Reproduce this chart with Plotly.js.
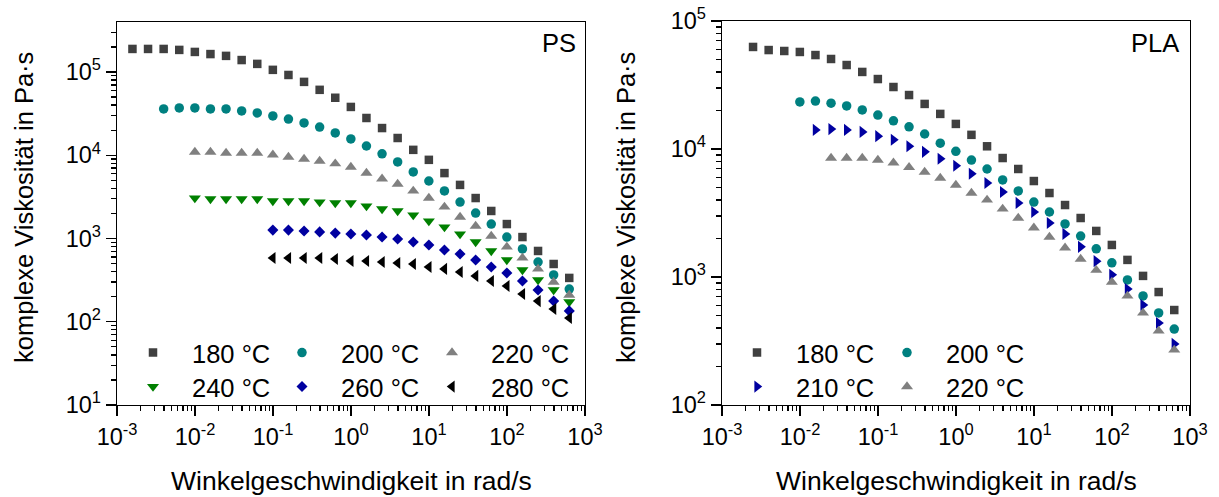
<!DOCTYPE html>
<html>
<head>
<meta charset="utf-8">
<script src="https://cdn.plot.ly/plotly-3.0.1.min.js"></script>
<style>html,body{margin:0;padding:0;background:#fff;}#chart{width:1219px;height:497px;}</style>
</head>
<body>
<div id="chart"></div>
<script>
// angular frequencies (rad/s), ascending
const omega = [0.001578, 0.002501, 0.003964, 0.006283, 0.009957, 0.01578, 0.02501, 0.03964, 0.06283, 0.09957,
  0.1578, 0.2501, 0.3964, 0.6283, 0.9957, 1.578, 2.501, 3.964, 6.283, 9.957,
  15.78, 25.01, 39.64, 62.83, 99.57, 157.8, 250.1, 396.4, 628.3];

// PS complex viscosity (Pa·s)
const ps180 = [1.89e5,1.89e5,1.89e5,1.84e5,1.74e5,1.64e5,1.56e5,1.39e5,1.25e5,1.06e5,9.2e4,7.6e4,6.1e4,4.9e4,3.8e4,2.8e4,2.12e4,1.61e4,1.16e4,8.8e3,6.1e3,4.4e3,3.06e3,2.14e3,1.49e3,1.04e3,708,494,336];
const ps200 = [3.6e4,3.7e4,3.7e4,3.6e4,3.6e4,3.4e4,3.22e4,2.96e4,2.72e4,2.44e4,2.18e4,1.85e4,1.57e4,1.29e4,1.04e4,8.3e3,6.3e3,4.9e3,3.72e3,2.74e3,2.02e3,1.49e3,1.04e3,748,522,365,247];
const ps220 = [1.09e4,1.09e4,1.06e4,1.06e4,1.06e4,1.01e4,9.5e3,9.0e3,8.5e3,7.9e3,7.2e3,6.1e3,5.2e3,4.5e3,3.72e3,3.06e3,2.39e3,1.81e3,1.41e3,1.07e3,791,583,431,300,209];
const ps240 = [3.06e3,2.98e3,2.98e3,2.98e3,2.98e3,2.82e3,2.82e3,2.82e3,2.74e3,2.67e3,2.67e3,2.45e3,2.26e3,2.14e3,1.91e3,1.62e3,1.37e3,1.13e3,908,708,552,419,318,241,173];
const ps260 = [1.26e3,1.26e3,1.23e3,1.20e3,1.16e3,1.13e3,1.10e3,1.04e3,986,908,836,728,652,552,455,385,309,241,177,135];
const ps280 = [583,583,583,583,567,537,537,522,508,494,455,431,396,355,309,269,215,177,142,111];

// PLA complex viscosity (Pa·s)
const pla180 = [6.27e4,5.93e4,5.83e4,5.73e4,5.42e4,5.05e4,4.53e4,4.00e4,3.52e4,3.05e4,2.64e4,2.25e4,1.88e4,1.57e4,1.29e4,1.05e4,8.5e3,6.98e3,5.62e3,4.53e3,3.65e3,2.89e3,2.29e3,1.78e3,1.36e3,1.02e3,763,552];
const pla200 = [2.33e4,2.37e4,2.28e4,2.17e4,2.02e4,1.84e4,1.66e4,1.49e4,1.31e4,1.11e4,9.6e3,8.2e3,6.98e3,5.73e3,4.70e3,3.85e3,3.22e3,2.60e3,2.09e3,1.66e3,1.29e3,948,711,524,392];
const pla210 = [1.41e4,1.43e4,1.41e4,1.36e4,1.26e4,1.18e4,1.05e4,9.5e3,8.4e3,7.4e3,6.4e3,5.42e3,4.61e3,3.79e3,3.22e3,2.64e3,2.17e3,1.72e3,1.33e3,1.04e3,806,604,437,300];
const pla220 = [8.5e3,8.5e3,8.5e3,8.2e3,7.8e3,7.2e3,6.6e3,5.93e3,5.23e3,4.53e3,4.00e3,3.40e3,2.89e3,2.42e3,2.05e3,1.69e3,1.38e3,1.13e3,914,711,524,379,269];

const psNames = ['180 °C','200 °C','220 °C','240 °C','260 °C','280 °C'];
const plaNames = ['180 °C','200 °C','210 °C','220 °C'];
const xTickVals = [1e-3,1e-2,1e-1,1,10,100,1000];
const xTickText = ['10<sup>-3</sup>','10<sup>-2</sup>','10<sup>-1</sup>','10<sup>0</sup>','10<sup>1</sup>','10<sup>2</sup>','10<sup>3</sup>'];
const yTickValsPS = [10,100,1000,1e4,1e5];
const yTickTextPS = ['10<sup>1</sup>','10<sup>2</sup>','10<sup>3</sup>','10<sup>4</sup>','10<sup>5</sup>'];
const yTickValsPLA = [100,1000,1e4,1e5];
const yTickTextPLA = ['10<sup>2</sup>','10<sup>3</sup>','10<sup>4</sup>','10<sup>5</sup>'];

function minors(lo, hi) {
  const out = [];
  for (let e = lo; e < hi; e++) for (let m = 2; m <= 9; m++) out.push(m * Math.pow(10, e));
  return out;
}

const FONT = '"Liberation Sans", Arial, sans-serif';
const W = 1219, H = 497;

function tr(x, y, name, sym, color, size, xa, ya, leg) {
  return {x: x, y: y, name: name, type: 'scatter', mode: 'markers', xaxis: xa, yaxis: ya, legend: leg,
    marker: {symbol: sym, color: color, size: size, line: {width: 0}}};
}
const C = {sq: '#404040', teal: '#008080', gray: '#808080', green: '#008000', blue: '#0000a0', black: '#000000'};

const data = [
  tr(omega.slice(-ps180.length), ps180, psNames[0], 'square', C.sq, 8.5, 'x', 'y', 'legend'),
  tr(omega.slice(-ps200.length), ps200, psNames[1], 'circle', C.teal, 9.5, 'x', 'y', 'legend2'),
  tr(omega.slice(-ps220.length), ps220, psNames[2], 'triangle-up', C.gray, 10.5, 'x', 'y', 'legend3'),
  tr(omega.slice(-ps240.length), ps240, psNames[3], 'triangle-down', C.green, 10.5, 'x', 'y', 'legend4'),
  tr(omega.slice(-ps260.length), ps260, psNames[4], 'diamond', C.blue, 8.5, 'x', 'y', 'legend5'),
  tr(omega.slice(-ps280.length), ps280, psNames[5], 'triangle-left', C.black, 10.5, 'x', 'y', 'legend6'),
  tr(omega.slice(-pla180.length), pla180, plaNames[0], 'square', C.sq, 8.5, 'x2', 'y2', 'legend7'),
  tr(omega.slice(-pla200.length), pla200, plaNames[1], 'circle', C.teal, 9.5, 'x2', 'y2', 'legend8'),
  tr(omega.slice(-pla210.length), pla210, plaNames[2], 'triangle-right', C.blue, 10.5, 'x2', 'y2', 'legend9'),
  tr(omega.slice(-pla220.length), pla220, plaNames[3], 'triangle-up', C.gray, 10.5, 'x2', 'y2', 'legend10')
];

const axBase = {
  type: 'log', showgrid: false, zeroline: false, showline: true, linecolor: '#000', linewidth: 1.3,
  mirror: true, ticks: 'outside', ticklen: 10, tickwidth: 1.3, tickcolor: '#000',
  tickfont: {family: FONT, size: 23.5, color: '#000'}, tickmode: 'array'
};
function ax(extra) { return Object.assign({}, axBase, extra); }

const legBase = {
  orientation: 'h', bgcolor: 'rgba(0,0,0,0)', borderwidth: 0, font: {family: FONT, size: 25.5, color: '#000'},
  itemwidth: 68, xanchor: 'left', yanchor: 'middle',
  itemclick: false, itemdoubleclick: false, tracegroupgap: 0
};
// position by marker centre (px): item start = marker - 39
function leg(mx, y) { return Object.assign({}, legBase, {x: (mx - 39) / W, y: (H - y) / H}); }

const annFont = {family: FONT, size: 25.5, color: '#000'};
const layout = {
  width: W, height: H, margin: {l: 0, r: 0, t: 0, b: 0}, paper_bgcolor: '#fff', plot_bgcolor: '#fff',
  showlegend: true,
  xaxis: ax({domain: [117 / W, 585 / W], range: [-3, 3], tickvals: xTickVals, ticktext: xTickText, anchor: 'y',
    minor: {tickmode: 'array', tickvals: minors(-3, 3), ticks: 'outside', ticklen: 5, tickwidth: 1.3, tickcolor: '#000'}}),
  yaxis: ax({domain: [(H - 405) / H, (H - 22) / H], range: [1, 5.6], tickvals: yTickValsPS, ticktext: yTickTextPS, anchor: 'x',
    minor: {tickmode: 'array', tickvals: minors(1, 6).filter(v => v < 3.99e5), ticks: 'outside', ticklen: 5, tickwidth: 1.3, tickcolor: '#000'}}),
  xaxis2: ax({domain: [722 / W, 1190 / W], range: [-3, 3], tickvals: xTickVals, ticktext: xTickText, anchor: 'y2',
    minor: {tickmode: 'array', tickvals: minors(-3, 3), ticks: 'outside', ticklen: 5, tickwidth: 1.3, tickcolor: '#000'}}),
  yaxis2: ax({domain: [(H - 405) / H, (H - 21) / H], range: [2, 5], tickvals: yTickValsPLA, ticktext: yTickTextPLA, anchor: 'x2',
    minor: {tickmode: 'array', tickvals: minors(2, 5), ticks: 'outside', ticklen: 5, tickwidth: 1.3, tickcolor: '#000'}}),
  legend: leg(153, 353),
  legend2: leg(302, 353),
  legend3: leg(452, 353),
  legend4: leg(153, 387),
  legend5: leg(302, 387),
  legend6: leg(452, 387),
  legend7: leg(757, 353),
  legend8: leg(907, 353),
  legend9: leg(757, 387),
  legend10: leg(907, 387),
  annotations: [
    {text: 'PS', xref: 'paper', yref: 'paper', x: 578 / W, y: (H - 43) / H, xanchor: 'right', yanchor: 'middle', showarrow: false, font: annFont},
    {text: 'PLA', xref: 'paper', yref: 'paper', x: 1181 / W, y: (H - 43) / H, xanchor: 'right', yanchor: 'middle', showarrow: false, font: annFont},
    {text: 'Winkelgeschwindigkeit in rad/s', xref: 'paper', yref: 'paper', x: 351 / W, y: (H - 481) / H, xanchor: 'center', yanchor: 'middle', showarrow: false, font: {family: FONT, size: 26.5, color: '#000'}},
    {text: 'Winkelgeschwindigkeit in rad/s', xref: 'paper', yref: 'paper', x: 956 / W, y: (H - 481) / H, xanchor: 'center', yanchor: 'middle', showarrow: false, font: {family: FONT, size: 26.5, color: '#000'}},
    {text: 'komplexe Viskosität in Pa·s', xref: 'paper', yref: 'paper', x: 24 / W, y: (H - 208) / H, xanchor: 'center', yanchor: 'middle', textangle: -90, showarrow: false, font: annFont},
    {text: 'komplexe Viskosität in Pa·s', xref: 'paper', yref: 'paper', x: 626 / W, y: (H - 208) / H, xanchor: 'center', yanchor: 'middle', textangle: -90, showarrow: false, font: annFont}
  ]
};

Plotly.newPlot('chart', data, layout, {staticPlot: true, displayModeBar: false});
</script>
</body>
</html>
